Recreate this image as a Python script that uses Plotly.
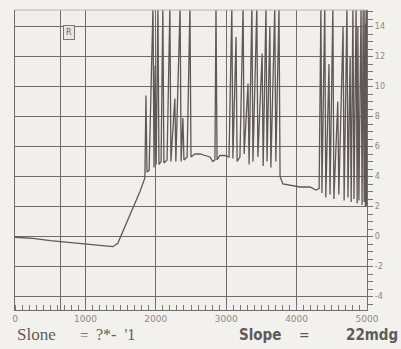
import plotly.graph_objects as go

# Recorder trace: time (s) vs. signal (mV)
time_s = [
    0, 255, 500, 740, 995, 1205, 1390, 1460, 1560, 1675, 1775, 1845,
    1860, 1875, 1905, 1960, 1975, 1990, 2005, 2030, 2045, 2075, 2100, 2115,
    2160, 2200, 2215, 2270, 2285, 2345, 2360, 2385, 2400, 2445, 2485, 2500,
    2555, 2630, 2700, 2770, 2810, 2840, 2855, 2870, 2910, 2980, 3040,
    3080, 3095, 3140, 3155, 3195, 3240, 3255, 3310, 3325, 3365, 3380, 3435,
    3450, 3510, 3525, 3565, 3580, 3620, 3635, 3690, 3705, 3750, 3765,
    3805, 3905, 4050, 4190, 4275, 4320,
    4345, 4360, 4400, 4415, 4460, 4475, 4515, 4530, 4585, 4600, 4660, 4675,
    4715, 4730, 4760, 4775, 4800, 4815, 4845, 4860, 4870, 4885, 4915, 4930,
    4945, 4960, 4970, 4978, 4985, 4990, 4995, 5000,
]
signal_mv = [
    -0.05, -0.12, -0.28, -0.4, -0.53, -0.6, -0.68, -0.45, 0.6, 1.9, 3.0, 3.9,
    9.4, 4.3, 4.4, 15.3, 4.6, 11.4, 4.8, 15.3, 4.8, 5.0, 15.3, 4.9,
    5.1, 15.3, 5.0, 9.2, 5.0, 15.3, 5.0, 7.9, 5.1, 5.3, 15.3, 5.3,
    5.5, 5.5, 5.4, 5.3, 5.0, 5.1, 15.3, 5.1, 5.4, 5.4, 5.3,
    15.3, 5.2, 13.3, 5.0, 5.3, 15.3, 5.5, 10.2, 4.8, 15.3, 5.0, 15.3,
    5.3, 12.2, 4.7, 15.3, 5.0, 14.0, 4.6, 15.3, 5.0, 15.3, 4.0,
    3.5, 3.4, 3.3, 3.3, 3.1, 3.2,
    15.3, 2.9, 15.3, 2.6, 11.5, 2.8, 15.3, 2.5, 9.0, 2.8, 14.0, 2.4,
    15.3, 2.6, 12.0, 2.3, 15.3, 2.5, 15.3, 2.2, 14.0, 2.4, 15.3, 2.1,
    15.3, 2.3, 15.3, 2.0, 14.2, 2.1, 15.3, 2.0,
]

x_grid = [0, 640, 1000, 2000, 3000, 4000, 5000]
x_labels = ["0", "", "1000", "2000", "3000", "4000", "5000"]
y_ticks = [-4, -2, 0, 2, 4, 6, 8, 10, 12, 14]
y_labels = ["-4", "-2", "0", "2", "4", "6", "8", "10", "12", "14"]

grid_col = "#6f6c6c"
label_col = "#8c8888"

fig = go.Figure()
fig.add_trace(go.Scatter(
    x=time_s, y=signal_mv, mode="lines",
    line=dict(color="#5e5858", width=1.3),
    hoverinfo="skip", showlegend=False,
))

fig.update_layout(
    width=401, height=349,
    margin=dict(l=15, r=34, t=10, b=39),
    paper_bgcolor="#f3f1ed",
    plot_bgcolor="#f1efeb",
    showlegend=False,
    xaxis=dict(
        range=[0, 5000], tickmode="array", tickvals=x_grid, ticktext=x_labels,
        showgrid=True, gridcolor=grid_col, gridwidth=1.2,
        zeroline=False, showline=True, linecolor=grid_col, linewidth=1.2,
        ticks="", tickfont=dict(family="DejaVu Sans", size=9, color=label_col),
        minor=dict(ticks="inside", dtick=100, tick0=0, ticklen=5,
                   tickcolor="#7a7676", tickwidth=1, showgrid=False),
    ),
    yaxis=dict(
        range=[-4.9, 15.1], side="right", tickmode="array",
        tickvals=y_ticks, ticktext=y_labels,
        showgrid=True, gridcolor=grid_col, gridwidth=1.2,
        zeroline=False, showline=True, mirror=True, linecolor=grid_col, linewidth=1.4,
        ticks="outside", ticklen=5, tickcolor="#7a7676",
        tickfont=dict(family="DejaVu Sans", size=8, color=label_col),
        minor=dict(ticks="outside", dtick=0.5, ticklen=5,
                   tickcolor="#7a7676", tickwidth=1, showgrid=False),
    ),
)

# faint upper border of the chart paper
fig.add_shape(type="line", xref="paper", yref="paper", x0=0, x1=1, y0=1, y1=1,
              line=dict(color="#b8b4b0", width=1))

# channel marker box
fig.add_annotation(x=770, y=13.6, text="R", showarrow=False,
                   font=dict(family="DejaVu Sans", size=8, color="#666"),
                   bordercolor="#7a7676", borderwidth=1, borderpad=2,
                   bgcolor="#e9e6e2")

# slope readouts printed beneath the trace
def note(px_frac, text, fam, size, bold=False):
    fig.add_annotation(
        xref="paper", yref="paper", x=px_frac, y=-0.083,
        xanchor="left", yanchor="middle", showarrow=False,
        text=f"<b>{text}</b>" if bold else text,
        font=dict(family=fam, size=size, color="#5f5b5b"),
    )

note(0.0, "Slone", "Liberation Serif", 17)
note(0.18, "=", "Liberation Serif", 15)
note(0.225, "?*-  '1", "Liberation Serif", 16)
note(0.63, "Slope", "Liberation Sans Narrow, DejaVu Sans Condensed", 15, bold=True)
note(0.80, "=", "Liberation Sans Narrow, DejaVu Sans Condensed", 14)
note(0.935, "22mdg", "Liberation Sans Narrow, DejaVu Sans Condensed", 15, bold=True)

fig.write_html("out.html")
